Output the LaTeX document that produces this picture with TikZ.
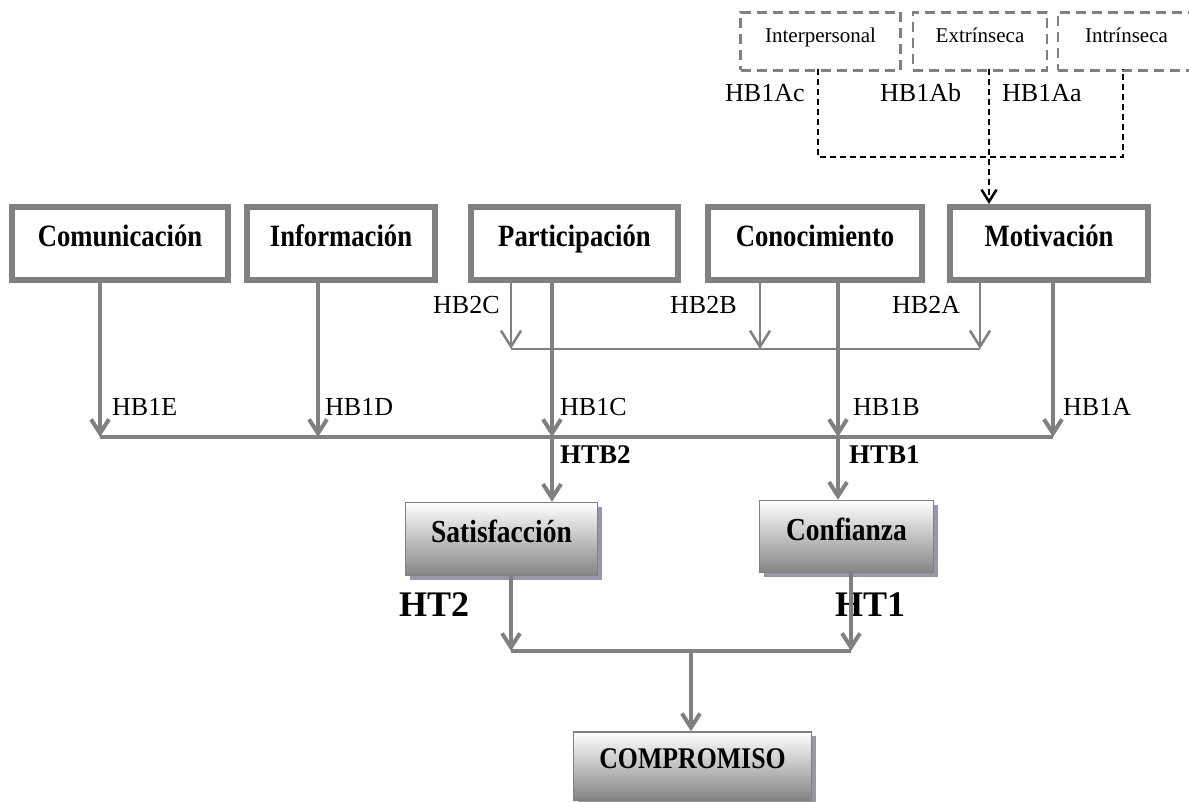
\documentclass[tikz,border=0pt]{standalone}
\usepackage{fontspec}
\setmainfont{Liberation Serif}
\newfontfamily\condserif{Liberation Serif}[FakeStretch=0.86]
\usetikzlibrary{arrows.meta,shadows}
\definecolor{linegray}{RGB}{128,128,128}
\definecolor{shadegray}{RGB}{132,132,132}
\definecolor{shadowc}{RGB}{156,149,170}
\tikzset{
  mainbox/.style={draw=linegray, line width=6pt, fill=white, inner sep=0pt,
    font=\condserif\bfseries\fontsize{31}{36}\selectfont, text height=21pt, text depth=14pt},
  resultbox/.style={draw=linegray, line width=1.5pt, inner sep=0pt,
    top color=white, bottom color=shadegray,
    drop shadow={shadow xshift=4pt, shadow yshift=-4pt, fill=shadowc, opacity=1},
    font=\condserif\bfseries\fontsize{32}{36}\selectfont, text height=21pt, text depth=14pt},
  typebox/.style={draw=linegray, line width=2.5pt, dash pattern=on 10pt off 6pt, inner sep=0pt,
    font=\fontsize{21}{25}\selectfont, text height=15pt, text depth=12pt},
  hyp/.style={anchor=base west, inner sep=0pt, font=\fontsize{26}{30}\selectfont},
  hypbold/.style={anchor=base west, inner sep=0pt, font=\bfseries\fontsize{27}{31}\selectfont},
  hypbig/.style={anchor=base west, inner sep=0pt, font=\bfseries\fontsize{36}{40}\selectfont},
  thickarrow/.style={draw=linegray, line width=4pt, -{Straight Barb[length=14pt,width=18pt]}},
  thinarrow/.style={draw=linegray, line width=2.5pt, -{Straight Barb[length=16pt,width=20pt]}},
  thickline/.style={draw=linegray, line width=4pt},
  thinline/.style={draw=linegray, line width=2.5pt},
  dashlink/.style={draw=black, line width=2pt, dash pattern=on 6pt off 4pt},
}
\begin{document}
\begin{tikzpicture}[x=1pt, y=-1pt]
\useasboundingbox (0,0) rectangle (1189,802);
\clip (0,0) rectangle (1189,802);
\fill[white] (0,0) rectangle (1189,802);

% motivation types
\node[typebox, minimum width=160pt, minimum height=58pt] (inter) at (820.5,41.5) {Interpersonal};
\node[typebox, minimum width=134pt, minimum height=58pt] (extr) at (980,41.5) {Extrínseca};
\node[typebox, minimum width=137pt, minimum height=58pt] (intr) at (1126.5,41.5) {Intrínseca};

% antecedent constructs
\node[mainbox, minimum width=216pt, minimum height=73pt] (com) at (120,243.5) {Comunicación};
\node[mainbox, minimum width=188pt, minimum height=73pt] (inf) at (341,243.5) {Información};
\node[mainbox, minimum width=207pt, minimum height=73pt] (par) at (574.5,243.5) {Participación};
\node[mainbox, minimum width=214pt, minimum height=73pt] (con) at (815,243.5) {Conocimiento};
\node[mainbox, minimum width=198pt, minimum height=73pt] (mot) at (1049,243.5) {Motivación};

% mediators and outcome
\node[resultbox, minimum width=192pt, minimum height=73pt] (sat) at (501.5,539) {Satisfacción};
\node[resultbox, minimum width=174pt, minimum height=72pt] (conf) at (846.5,536.5) {Confianza};
\node[resultbox, minimum width=238pt, minimum height=68pt, text height=21pt, text depth=16pt,
  font=\condserif\bfseries\fontsize{30}{34}\selectfont] (comp) at (692.5,766) {COMPROMISO};

% junction points
\coordinate (d1) at (818,157);
\coordinate (dm) at (989,157);
\coordinate (d3) at (1123,157);
\coordinate (k1) at (511,349);
\coordinate (k2) at (760,349);
\coordinate (k3) at (980,349);
\coordinate (j1) at (100,437);
\coordinate (j2) at (318,437);
\coordinate (j3) at (552,437);
\coordinate (j4) at (838,437);
\coordinate (j5) at (1053,437);
\coordinate (m1) at (511,651);
\coordinate (m0) at (691,651);
\coordinate (m2) at (851,651);

% dashed links from motivation types
\draw[dashlink] ([yshift=3pt]inter.south -| d1) -- (d1) -- (d3) -- ([yshift=3pt]intr.south -| d3);
\draw[dashlink, -{Straight Barb[length=12pt,width=15pt,line width=2.5pt]}] ([yshift=3pt]extr.south -| dm) -- (mot.north -| dm);

% HB2 paths
\draw[thinarrow] (par.south -| k1) -- (k1);
\draw[thinarrow] (con.south -| k2) -- (k2);
\draw[thinarrow] (mot.south -| k3) -- (k3);
\draw[thinline] (k1) -- (k3);

% HB1 paths
\draw[thickarrow] (com.south -| j1) -- (j1);
\draw[thickarrow] (inf.south -| j2) -- (j2);
\draw[thickarrow] (par.south -| j3) -- (j3);
\draw[thickarrow] (con.south -| j4) -- (j4);
\draw[thickarrow] (mot.south -| j5) -- (j5);
\draw[thickline] (j1) -- (j5);

% HTB paths
\draw[thickarrow] (j3) -- (sat.north -| j3);
\draw[thickarrow] (j4) -- (conf.north -| j4);

% hypothesis labels
\node[hyp] (lac) at (725,102) {HB1Ac};
\node[hyp] (lab) at (880,102) {HB1Ab};
\node[hyp] (laa) at (1002,102) {HB1Aa};
\node[hyp] (l2c) at (433,314) {HB2C};
\node[hyp] (l2b) at (670,314) {HB2B};
\node[hyp] (l2a) at (892,314) {HB2A};
\node[hyp] (l1e) at (112,415) {HB1E};
\node[hyp] (l1d) at (325,415) {HB1D};
\node[hyp] (l1c) at (560,415) {HB1C};
\node[hyp] (l1b) at (853,415) {HB1B};
\node[hyp] (l1a) at (1063,415) {HB1A};
\node[hypbold] (ltb2) at (560,463) {HTB2};
\node[hypbold] (ltb1) at (849,463) {HTB1};
\node[hypbig] (lt2) at (399,616) {HT2};
\node[hypbig] (lt1) at (835,616) {HT1};

% HT paths, drawn over the HT1 label
\draw[thickarrow] (sat.south -| m1) -- (m1);
\draw[thickarrow] (conf.south -| m2) -- (m2);
\draw[thickline] (m1) -- (m2);
\draw[thickarrow] (m0) -- (comp.north -| m0);
\end{tikzpicture}
\end{document}
